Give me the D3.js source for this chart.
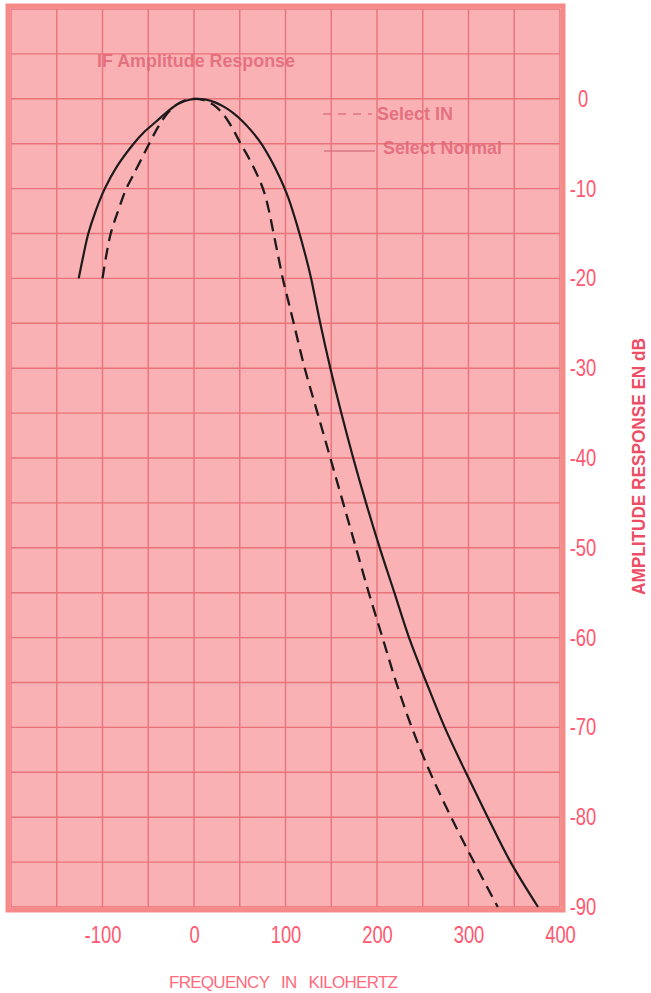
<!DOCTYPE html>
<html>
<head>
<meta charset="utf-8">
<script src="https://cdn.jsdelivr.net/npm/d3@7"></script>
<style>
  html, body { margin: 0; padding: 0; background: #ffffff; }
  svg { display: block; }
  .narrow { font-family: "Liberation Sans Narrow", "Arial Narrow", "Liberation Sans", Arial, sans-serif; }
</style>
</head>
<body>
<svg id="chart" width="651" height="993"></svg>
<script>
// ---- data ----
const xTickValues = [-100, 0, 100, 200, 300, 400];                    // kHz
const yTickValues = [0, -10, -20, -30, -40, -50, -60, -70, -80, -90]; // dB

// "Select Normal" (solid curve)
const normalFreq = [-126, -121, -115.5, -107.5, -97.5, -84, -66, -55, -41, -27, -16, -5, 3, 13, 23, 33, 43, 53, 63, 73, 83, 93, 103, 113, 122, 128, 133, 138, 149, 161, 174, 188, 203, 219, 235, 254, 274, 297, 321, 346, 376];
const normalDb   = [-20, -17.5, -15, -12.5, -10, -7.5, -5, -3.75, -2.5, -1.25, -0.5, -0.1, 0, -0.1, -0.4, -0.9, -1.6, -2.5, -3.6, -4.9, -6.6, -8.6, -11, -14.2, -17.5, -20, -22.5, -25, -30, -35, -40, -45, -50, -55, -60, -65, -70, -75, -80, -85, -90];

// "Select IN" (dashed curve)
const inFreq = [-100, -96, -91, -83, -74, -67, -59, -49, -39, -29, -19, -9, 1, 11, 21, 31, 41, 51, 61, 71, 77, 82, 87, 92, 97, 103, 109, 121, 135, 149, 163, 177, 191, 206, 221, 238, 258, 281, 306, 332];
const inDb   = [-20, -17.5, -15, -12.5, -10, -8.6, -7, -5, -3.1, -1.6, -0.65, -0.15, 0, -0.15, -0.65, -1.6, -3.1, -5, -6.8, -8.9, -10.5, -12.5, -15, -17.5, -20, -22.5, -25, -30, -35, -40, -45, -50, -55, -60, -65, -70, -75, -80, -85, -90];

const gridFreq = d3.range(-200, 401, 50);
const gridDb = d3.range(-90, 11, 5);

const legendLabels = ["Select IN", "Select Normal"];
const titleText = "IF Amplitude Response";
const xTitle = "FREQUENCY   IN   KILOHERTZ";
const yTitle = "AMPLITUDE RESPONSE EN dB";

// ---- scales ----
const x = d3.scaleLinear().domain([-200, 400]).range([11, 560]);
const y = d3.scaleLinear().domain([10, -90]).range([9, 907]);

const svg = d3.select("#chart");

// panel
svg.append("rect")
  .attr("x", x(-200)).attr("y", y(10))
  .attr("width", x(400) - x(-200)).attr("height", y(-90) - y(10))
  .attr("fill", "#f9b1b3");

// grid
const g = svg.append("g").attr("stroke", "#e8737b").attr("stroke-width", 1.4);
g.selectAll(".vg").data(gridFreq).join("line")
  .attr("x1", d => x(d)).attr("x2", d => x(d))
  .attr("y1", y(10)).attr("y2", y(-90));
g.selectAll(".hg").data(gridDb).join("line")
  .attr("y1", d => y(d)).attr("y2", d => y(d))
  .attr("x1", x(-200)).attr("x2", x(400));

// border
svg.append("rect")
  .attr("x", x(-200) - 3).attr("y", y(10) - 3)
  .attr("width", x(400) - x(-200) + 6).attr("height", y(-90) - y(10) + 6)
  .attr("fill", "none").attr("stroke", "#f58a89").attr("stroke-width", 5);

// title inside the grid
svg.append("text").attr("class", "narrow")
  .attr("x", 97).attr("y", 67)
  .attr("textLength", 198).attr("lengthAdjust", "spacingAndGlyphs")
  .attr("font-size", 19).attr("font-weight", "bold")
  .attr("fill", "#e26677").attr("fill-opacity", 0.85)
  .text(titleText);

// legend
const legCol = "#d66e7a";
svg.append("line").attr("x1", 323).attr("x2", 372).attr("y1", 114).attr("y2", 114)
  .attr("stroke", legCol).attr("stroke-width", 1.6).attr("stroke-dasharray", "8,7").attr("opacity", 0.85);
svg.append("line").attr("x1", 324).attr("x2", 375).attr("y1", 151).attr("y2", 151)
  .attr("stroke", legCol).attr("stroke-width", 1.6).attr("opacity", 0.85);
svg.append("text").attr("class", "narrow")
  .attr("x", 377).attr("y", 120)
  .attr("textLength", 76).attr("lengthAdjust", "spacingAndGlyphs")
  .attr("font-size", 18).attr("font-weight", "bold")
  .attr("fill", "#e26677").attr("fill-opacity", 0.85)
  .text(legendLabels[0]);
svg.append("text").attr("class", "narrow")
  .attr("x", 383).attr("y", 154)
  .attr("textLength", 119).attr("lengthAdjust", "spacingAndGlyphs")
  .attr("font-size", 18).attr("font-weight", "bold")
  .attr("fill", "#e26677").attr("fill-opacity", 0.85)
  .text(legendLabels[1]);

// curves
const line = d3.line().x(d => x(d[0])).y(d => y(d[1])).curve(d3.curveCatmullRom.alpha(0.5));
svg.append("path")
  .datum(d3.zip(inFreq, inDb))
  .attr("d", line)
  .attr("fill", "none").attr("stroke", "#1e1a1c").attr("stroke-width", 2.3)
  .attr("stroke-dasharray", "12,7");
svg.append("path")
  .datum(d3.zip(normalFreq, normalDb))
  .attr("d", line)
  .attr("fill", "none").attr("stroke", "#1e1a1c").attr("stroke-width", 2.2);

// narrow-face helper: compress glyphs horizontally like a condensed face
function condense(sel, k) {
  sel.each(function () {
    const w = this.getComputedTextLength();
    d3.select(this).attr("textLength", w * k).attr("lengthAdjust", "spacingAndGlyphs");
  });
}

// y axis (right)
const yAxis = svg.append("g").attr("transform", "translate(583,0)")
  .call(d3.axisRight(y).tickValues(yTickValues).tickSize(0).tickPadding(0).tickFormat(d => String(d)));
yAxis.select(".domain").remove();
yAxis.selectAll("text")
  .attr("class", "narrow")
  .attr("x", 0).attr("text-anchor", "middle").attr("dy", "0.33em")
  .attr("font-size", 23).attr("fill", "#ff5870")
  .call(condense, 0.8);

// x axis (bottom)
const xAxis = svg.append("g").attr("transform", "translate(0,935)")
  .call(d3.axisBottom(x).tickValues(xTickValues).tickSize(0).tickPadding(0).tickFormat(d => String(d)));
xAxis.select(".domain").remove();
xAxis.selectAll("text")
  .attr("class", "narrow")
  .attr("y", 0).attr("dy", "0.36em").attr("text-anchor", "middle")
  .attr("font-size", 23).attr("fill", "#ff5870")
  .call(condense, 0.8);

// axis titles
svg.append("text").attr("class", "narrow")
  .attr("x", 169).attr("y", 988)
  .attr("textLength", 229).attr("lengthAdjust", "spacing")
  .attr("font-size", 17).attr("fill", "#ff6a7c")
  .style("white-space", "pre")
  .text(xTitle);

svg.append("text").attr("class", "narrow")
  .attr("transform", "translate(645,595) rotate(-90)")
  .attr("x", 0).attr("y", 0)
  .attr("textLength", 257).attr("lengthAdjust", "spacingAndGlyphs")
  .attr("font-size", 19).attr("font-weight", "bold").attr("fill", "#ee4d66")
  .text(yTitle);
</script>
</body>
</html>
